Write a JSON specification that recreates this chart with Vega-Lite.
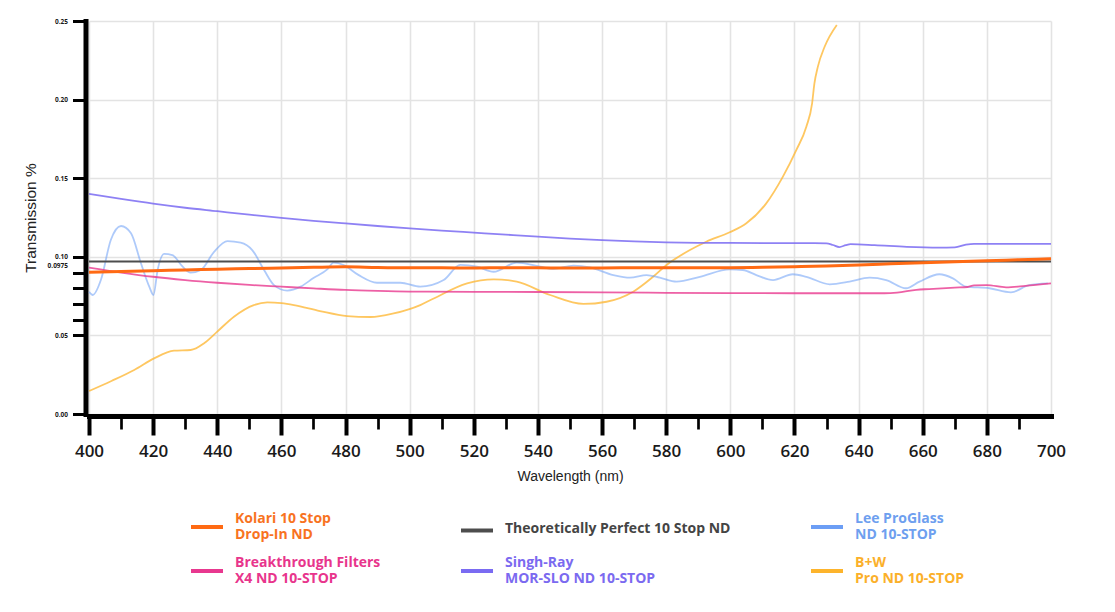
{
  "$schema": "https://vega.github.io/schema/vega-lite/v6.json",
  "autosize": "none",
  "width": 962,
  "height": 393,
  "padding": {"left": 89, "top": 21, "right": 64, "bottom": 198},
  "background": "white",
  "config": {
    "view": {"stroke": null},
    "axis": {"labelColor": "#1a1a1a", "titleColor": "#222222"}
  },
  "data": {
    "values": [
      {"filter": "B+W|Pro ND 10-STOP", "wavelength": 400, "transmission": 0.0146},
      {"filter": "B+W|Pro ND 10-STOP", "wavelength": 407, "transmission": 0.021},
      {"filter": "B+W|Pro ND 10-STOP", "wavelength": 414.1, "transmission": 0.028},
      {"filter": "B+W|Pro ND 10-STOP", "wavelength": 420.3, "transmission": 0.0354},
      {"filter": "B+W|Pro ND 10-STOP", "wavelength": 426.5, "transmission": 0.0403},
      {"filter": "B+W|Pro ND 10-STOP", "wavelength": 431.7, "transmission": 0.0407},
      {"filter": "B+W|Pro ND 10-STOP", "wavelength": 435.9, "transmission": 0.045},
      {"filter": "B+W|Pro ND 10-STOP", "wavelength": 440, "transmission": 0.0524},
      {"filter": "B+W|Pro ND 10-STOP", "wavelength": 445.2, "transmission": 0.0619},
      {"filter": "B+W|Pro ND 10-STOP", "wavelength": 451.4, "transmission": 0.0693},
      {"filter": "B+W|Pro ND 10-STOP", "wavelength": 455.6, "transmission": 0.071},
      {"filter": "B+W|Pro ND 10-STOP", "wavelength": 460, "transmission": 0.0705},
      {"filter": "B+W|Pro ND 10-STOP", "wavelength": 463.9, "transmission": 0.0693},
      {"filter": "B+W|Pro ND 10-STOP", "wavelength": 472, "transmission": 0.0655},
      {"filter": "B+W|Pro ND 10-STOP", "wavelength": 480.5, "transmission": 0.0623},
      {"filter": "B+W|Pro ND 10-STOP", "wavelength": 487.8, "transmission": 0.0617},
      {"filter": "B+W|Pro ND 10-STOP", "wavelength": 495, "transmission": 0.064},
      {"filter": "B+W|Pro ND 10-STOP", "wavelength": 503.3, "transmission": 0.0693},
      {"filter": "B+W|Pro ND 10-STOP", "wavelength": 507.5, "transmission": 0.0735},
      {"filter": "B+W|Pro ND 10-STOP", "wavelength": 517.9, "transmission": 0.0831},
      {"filter": "B+W|Pro ND 10-STOP", "wavelength": 526.2, "transmission": 0.0857},
      {"filter": "B+W|Pro ND 10-STOP", "wavelength": 533.4, "transmission": 0.0842},
      {"filter": "B+W|Pro ND 10-STOP", "wavelength": 543.8, "transmission": 0.0757},
      {"filter": "B+W|Pro ND 10-STOP", "wavelength": 554.2, "transmission": 0.07},
      {"filter": "B+W|Pro ND 10-STOP", "wavelength": 561.4, "transmission": 0.0714},
      {"filter": "B+W|Pro ND 10-STOP", "wavelength": 569.7, "transmission": 0.0778},
      {"filter": "B+W|Pro ND 10-STOP", "wavelength": 575.9, "transmission": 0.0873},
      {"filter": "B+W|Pro ND 10-STOP", "wavelength": 580.1, "transmission": 0.0948},
      {"filter": "B+W|Pro ND 10-STOP", "wavelength": 587.4, "transmission": 0.1043},
      {"filter": "B+W|Pro ND 10-STOP", "wavelength": 592.5, "transmission": 0.1096},
      {"filter": "B+W|Pro ND 10-STOP", "wavelength": 599.8, "transmission": 0.1156},
      {"filter": "B+W|Pro ND 10-STOP", "wavelength": 605, "transmission": 0.1213},
      {"filter": "B+W|Pro ND 10-STOP", "wavelength": 611.2, "transmission": 0.134},
      {"filter": "B+W|Pro ND 10-STOP", "wavelength": 616.4, "transmission": 0.151},
      {"filter": "B+W|Pro ND 10-STOP", "wavelength": 620.6, "transmission": 0.168},
      {"filter": "B+W|Pro ND 10-STOP", "wavelength": 623.7, "transmission": 0.1828},
      {"filter": "B+W|Pro ND 10-STOP", "wavelength": 625.5, "transmission": 0.1976},
      {"filter": "B+W|Pro ND 10-STOP", "wavelength": 626.2, "transmission": 0.21},
      {"filter": "B+W|Pro ND 10-STOP", "wavelength": 627.3, "transmission": 0.221},
      {"filter": "B+W|Pro ND 10-STOP", "wavelength": 629.4, "transmission": 0.2336},
      {"filter": "B+W|Pro ND 10-STOP", "wavelength": 633.2, "transmission": 0.2475},

      {"filter": "Lee ProGlass|ND 10-STOP", "wavelength": 400, "transmission": 0.0778},
      {"filter": "Lee ProGlass|ND 10-STOP", "wavelength": 401.2, "transmission": 0.0757},
      {"filter": "Lee ProGlass|ND 10-STOP", "wavelength": 403.7, "transmission": 0.0852},
      {"filter": "Lee ProGlass|ND 10-STOP", "wavelength": 406.8, "transmission": 0.1107},
      {"filter": "Lee ProGlass|ND 10-STOP", "wavelength": 410, "transmission": 0.1196},
      {"filter": "Lee ProGlass|ND 10-STOP", "wavelength": 413.1, "transmission": 0.115},
      {"filter": "Lee ProGlass|ND 10-STOP", "wavelength": 416.2, "transmission": 0.0959},
      {"filter": "Lee ProGlass|ND 10-STOP", "wavelength": 418.8, "transmission": 0.081},
      {"filter": "Lee ProGlass|ND 10-STOP", "wavelength": 420.1, "transmission": 0.0757},
      {"filter": "Lee ProGlass|ND 10-STOP", "wavelength": 421.4, "transmission": 0.0916},
      {"filter": "Lee ProGlass|ND 10-STOP", "wavelength": 423.4, "transmission": 0.1018},
      {"filter": "Lee ProGlass|ND 10-STOP", "wavelength": 426, "transmission": 0.1011},
      {"filter": "Lee ProGlass|ND 10-STOP", "wavelength": 429.2, "transmission": 0.0937},
      {"filter": "Lee ProGlass|ND 10-STOP", "wavelength": 431.7, "transmission": 0.0899},
      {"filter": "Lee ProGlass|ND 10-STOP", "wavelength": 434.9, "transmission": 0.0916},
      {"filter": "Lee ProGlass|ND 10-STOP", "wavelength": 439, "transmission": 0.1032},
      {"filter": "Lee ProGlass|ND 10-STOP", "wavelength": 443.2, "transmission": 0.11},
      {"filter": "Lee ProGlass|ND 10-STOP", "wavelength": 447.3, "transmission": 0.109},
      {"filter": "Lee ProGlass|ND 10-STOP", "wavelength": 450.9, "transmission": 0.1043},
      {"filter": "Lee ProGlass|ND 10-STOP", "wavelength": 454.6, "transmission": 0.0916},
      {"filter": "Lee ProGlass|ND 10-STOP", "wavelength": 457.7, "transmission": 0.082},
      {"filter": "Lee ProGlass|ND 10-STOP", "wavelength": 461.8, "transmission": 0.0785},
      {"filter": "Lee ProGlass|ND 10-STOP", "wavelength": 466, "transmission": 0.081},
      {"filter": "Lee ProGlass|ND 10-STOP", "wavelength": 470, "transmission": 0.0865},
      {"filter": "Lee ProGlass|ND 10-STOP", "wavelength": 474.3, "transmission": 0.092},
      {"filter": "Lee ProGlass|ND 10-STOP", "wavelength": 476.3, "transmission": 0.0963},
      {"filter": "Lee ProGlass|ND 10-STOP", "wavelength": 479.4, "transmission": 0.0948},
      {"filter": "Lee ProGlass|ND 10-STOP", "wavelength": 484, "transmission": 0.0885},
      {"filter": "Lee ProGlass|ND 10-STOP", "wavelength": 489.8, "transmission": 0.0835},
      {"filter": "Lee ProGlass|ND 10-STOP", "wavelength": 497.1, "transmission": 0.0835},
      {"filter": "Lee ProGlass|ND 10-STOP", "wavelength": 503.3, "transmission": 0.081},
      {"filter": "Lee ProGlass|ND 10-STOP", "wavelength": 510.6, "transmission": 0.0852},
      {"filter": "Lee ProGlass|ND 10-STOP", "wavelength": 515.8, "transmission": 0.0948},
      {"filter": "Lee ProGlass|ND 10-STOP", "wavelength": 521, "transmission": 0.0937},
      {"filter": "Lee ProGlass|ND 10-STOP", "wavelength": 526.2, "transmission": 0.0905},
      {"filter": "Lee ProGlass|ND 10-STOP", "wavelength": 533.4, "transmission": 0.0963},
      {"filter": "Lee ProGlass|ND 10-STOP", "wavelength": 540.7, "transmission": 0.0937},
      {"filter": "Lee ProGlass|ND 10-STOP", "wavelength": 544.8, "transmission": 0.0924},
      {"filter": "Lee ProGlass|ND 10-STOP", "wavelength": 551.1, "transmission": 0.0944},
      {"filter": "Lee ProGlass|ND 10-STOP", "wavelength": 556.2, "transmission": 0.0933},
      {"filter": "Lee ProGlass|ND 10-STOP", "wavelength": 563.5, "transmission": 0.0884},
      {"filter": "Lee ProGlass|ND 10-STOP", "wavelength": 568.7, "transmission": 0.0867},
      {"filter": "Lee ProGlass|ND 10-STOP", "wavelength": 573.9, "transmission": 0.0884},
      {"filter": "Lee ProGlass|ND 10-STOP", "wavelength": 578, "transmission": 0.0867},
      {"filter": "Lee ProGlass|ND 10-STOP", "wavelength": 583.2, "transmission": 0.0842},
      {"filter": "Lee ProGlass|ND 10-STOP", "wavelength": 590.5, "transmission": 0.0873},
      {"filter": "Lee ProGlass|ND 10-STOP", "wavelength": 599.8, "transmission": 0.092},
      {"filter": "Lee ProGlass|ND 10-STOP", "wavelength": 603.9, "transmission": 0.0916},
      {"filter": "Lee ProGlass|ND 10-STOP", "wavelength": 608.1, "transmission": 0.0884},
      {"filter": "Lee ProGlass|ND 10-STOP", "wavelength": 613.3, "transmission": 0.0852},
      {"filter": "Lee ProGlass|ND 10-STOP", "wavelength": 619.5, "transmission": 0.0889},
      {"filter": "Lee ProGlass|ND 10-STOP", "wavelength": 623.7, "transmission": 0.0873},
      {"filter": "Lee ProGlass|ND 10-STOP", "wavelength": 631, "transmission": 0.0825},
      {"filter": "Lee ProGlass|ND 10-STOP", "wavelength": 637.2, "transmission": 0.0842},
      {"filter": "Lee ProGlass|ND 10-STOP", "wavelength": 643.4, "transmission": 0.0867},
      {"filter": "Lee ProGlass|ND 10-STOP", "wavelength": 648.6, "transmission": 0.0852},
      {"filter": "Lee ProGlass|ND 10-STOP", "wavelength": 654.8, "transmission": 0.08},
      {"filter": "Lee ProGlass|ND 10-STOP", "wavelength": 659, "transmission": 0.0842},
      {"filter": "Lee ProGlass|ND 10-STOP", "wavelength": 665.2, "transmission": 0.0889},
      {"filter": "Lee ProGlass|ND 10-STOP", "wavelength": 669.4, "transmission": 0.0863},
      {"filter": "Lee ProGlass|ND 10-STOP", "wavelength": 673.5, "transmission": 0.081},
      {"filter": "Lee ProGlass|ND 10-STOP", "wavelength": 680.8, "transmission": 0.08},
      {"filter": "Lee ProGlass|ND 10-STOP", "wavelength": 687.5, "transmission": 0.0774},
      {"filter": "Lee ProGlass|ND 10-STOP", "wavelength": 693.2, "transmission": 0.082},
      {"filter": "Lee ProGlass|ND 10-STOP", "wavelength": 699, "transmission": 0.0831},

      {"filter": "Breakthrough Filters|X4 ND 10-STOP", "wavelength": 400, "transmission": 0.0931},
      {"filter": "Breakthrough Filters|X4 ND 10-STOP", "wavelength": 410, "transmission": 0.09},
      {"filter": "Breakthrough Filters|X4 ND 10-STOP", "wavelength": 420, "transmission": 0.0873},
      {"filter": "Breakthrough Filters|X4 ND 10-STOP", "wavelength": 430, "transmission": 0.0852},
      {"filter": "Breakthrough Filters|X4 ND 10-STOP", "wavelength": 440, "transmission": 0.0835},
      {"filter": "Breakthrough Filters|X4 ND 10-STOP", "wavelength": 450, "transmission": 0.0821},
      {"filter": "Breakthrough Filters|X4 ND 10-STOP", "wavelength": 460, "transmission": 0.081},
      {"filter": "Breakthrough Filters|X4 ND 10-STOP", "wavelength": 470, "transmission": 0.0799},
      {"filter": "Breakthrough Filters|X4 ND 10-STOP", "wavelength": 480, "transmission": 0.0789},
      {"filter": "Breakthrough Filters|X4 ND 10-STOP", "wavelength": 490, "transmission": 0.0783},
      {"filter": "Breakthrough Filters|X4 ND 10-STOP", "wavelength": 500, "transmission": 0.0779},
      {"filter": "Breakthrough Filters|X4 ND 10-STOP", "wavelength": 520, "transmission": 0.0777},
      {"filter": "Breakthrough Filters|X4 ND 10-STOP", "wavelength": 540, "transmission": 0.0776},
      {"filter": "Breakthrough Filters|X4 ND 10-STOP", "wavelength": 560, "transmission": 0.0774},
      {"filter": "Breakthrough Filters|X4 ND 10-STOP", "wavelength": 580, "transmission": 0.0771},
      {"filter": "Breakthrough Filters|X4 ND 10-STOP", "wavelength": 600, "transmission": 0.0769},
      {"filter": "Breakthrough Filters|X4 ND 10-STOP", "wavelength": 620, "transmission": 0.0768},
      {"filter": "Breakthrough Filters|X4 ND 10-STOP", "wavelength": 640, "transmission": 0.0768},
      {"filter": "Breakthrough Filters|X4 ND 10-STOP", "wavelength": 648, "transmission": 0.0768},
      {"filter": "Breakthrough Filters|X4 ND 10-STOP", "wavelength": 652, "transmission": 0.0772},
      {"filter": "Breakthrough Filters|X4 ND 10-STOP", "wavelength": 658, "transmission": 0.079},
      {"filter": "Breakthrough Filters|X4 ND 10-STOP", "wavelength": 662, "transmission": 0.0795},
      {"filter": "Breakthrough Filters|X4 ND 10-STOP", "wavelength": 670, "transmission": 0.0804},
      {"filter": "Breakthrough Filters|X4 ND 10-STOP", "wavelength": 674, "transmission": 0.0808},
      {"filter": "Breakthrough Filters|X4 ND 10-STOP", "wavelength": 676, "transmission": 0.0818},
      {"filter": "Breakthrough Filters|X4 ND 10-STOP", "wavelength": 680, "transmission": 0.082},
      {"filter": "Breakthrough Filters|X4 ND 10-STOP", "wavelength": 686, "transmission": 0.0806},
      {"filter": "Breakthrough Filters|X4 ND 10-STOP", "wavelength": 692, "transmission": 0.0815},
      {"filter": "Breakthrough Filters|X4 ND 10-STOP", "wavelength": 700, "transmission": 0.0831},

      {"filter": "Singh-Ray|MOR-SLO ND 10-STOP", "wavelength": 400, "transmission": 0.14},
      {"filter": "Singh-Ray|MOR-SLO ND 10-STOP", "wavelength": 410, "transmission": 0.1368},
      {"filter": "Singh-Ray|MOR-SLO ND 10-STOP", "wavelength": 420, "transmission": 0.1338},
      {"filter": "Singh-Ray|MOR-SLO ND 10-STOP", "wavelength": 430, "transmission": 0.1312},
      {"filter": "Singh-Ray|MOR-SLO ND 10-STOP", "wavelength": 440, "transmission": 0.129},
      {"filter": "Singh-Ray|MOR-SLO ND 10-STOP", "wavelength": 450, "transmission": 0.1268},
      {"filter": "Singh-Ray|MOR-SLO ND 10-STOP", "wavelength": 460, "transmission": 0.1248},
      {"filter": "Singh-Ray|MOR-SLO ND 10-STOP", "wavelength": 470, "transmission": 0.1229},
      {"filter": "Singh-Ray|MOR-SLO ND 10-STOP", "wavelength": 480, "transmission": 0.1212},
      {"filter": "Singh-Ray|MOR-SLO ND 10-STOP", "wavelength": 490, "transmission": 0.1196},
      {"filter": "Singh-Ray|MOR-SLO ND 10-STOP", "wavelength": 500, "transmission": 0.1181},
      {"filter": "Singh-Ray|MOR-SLO ND 10-STOP", "wavelength": 510, "transmission": 0.1167},
      {"filter": "Singh-Ray|MOR-SLO ND 10-STOP", "wavelength": 520, "transmission": 0.1154},
      {"filter": "Singh-Ray|MOR-SLO ND 10-STOP", "wavelength": 530, "transmission": 0.1141},
      {"filter": "Singh-Ray|MOR-SLO ND 10-STOP", "wavelength": 540, "transmission": 0.1128},
      {"filter": "Singh-Ray|MOR-SLO ND 10-STOP", "wavelength": 550, "transmission": 0.1116},
      {"filter": "Singh-Ray|MOR-SLO ND 10-STOP", "wavelength": 560, "transmission": 0.1106},
      {"filter": "Singh-Ray|MOR-SLO ND 10-STOP", "wavelength": 570, "transmission": 0.1098},
      {"filter": "Singh-Ray|MOR-SLO ND 10-STOP", "wavelength": 580, "transmission": 0.1092},
      {"filter": "Singh-Ray|MOR-SLO ND 10-STOP", "wavelength": 590, "transmission": 0.1089},
      {"filter": "Singh-Ray|MOR-SLO ND 10-STOP", "wavelength": 600, "transmission": 0.1088},
      {"filter": "Singh-Ray|MOR-SLO ND 10-STOP", "wavelength": 615, "transmission": 0.1087},
      {"filter": "Singh-Ray|MOR-SLO ND 10-STOP", "wavelength": 630, "transmission": 0.1086},
      {"filter": "Singh-Ray|MOR-SLO ND 10-STOP", "wavelength": 632, "transmission": 0.1075},
      {"filter": "Singh-Ray|MOR-SLO ND 10-STOP", "wavelength": 634, "transmission": 0.1062},
      {"filter": "Singh-Ray|MOR-SLO ND 10-STOP", "wavelength": 636, "transmission": 0.1074},
      {"filter": "Singh-Ray|MOR-SLO ND 10-STOP", "wavelength": 637.5, "transmission": 0.108},
      {"filter": "Singh-Ray|MOR-SLO ND 10-STOP", "wavelength": 645, "transmission": 0.1074},
      {"filter": "Singh-Ray|MOR-SLO ND 10-STOP", "wavelength": 655, "transmission": 0.1063},
      {"filter": "Singh-Ray|MOR-SLO ND 10-STOP", "wavelength": 665, "transmission": 0.1058},
      {"filter": "Singh-Ray|MOR-SLO ND 10-STOP", "wavelength": 670, "transmission": 0.106},
      {"filter": "Singh-Ray|MOR-SLO ND 10-STOP", "wavelength": 673.5, "transmission": 0.1077},
      {"filter": "Singh-Ray|MOR-SLO ND 10-STOP", "wavelength": 676, "transmission": 0.1082},
      {"filter": "Singh-Ray|MOR-SLO ND 10-STOP", "wavelength": 690, "transmission": 0.1082},
      {"filter": "Singh-Ray|MOR-SLO ND 10-STOP", "wavelength": 700, "transmission": 0.1082},

      {"filter": "Theoretically Perfect 10 Stop ND", "wavelength": 400, "transmission": 0.097},
      {"filter": "Theoretically Perfect 10 Stop ND", "wavelength": 700, "transmission": 0.097},

      {"filter": "Kolari 10 Stop|Drop-In ND", "wavelength": 400, "transmission": 0.0902},
      {"filter": "Kolari 10 Stop|Drop-In ND", "wavelength": 410, "transmission": 0.0907},
      {"filter": "Kolari 10 Stop|Drop-In ND", "wavelength": 420, "transmission": 0.0912},
      {"filter": "Kolari 10 Stop|Drop-In ND", "wavelength": 430, "transmission": 0.0916},
      {"filter": "Kolari 10 Stop|Drop-In ND", "wavelength": 440, "transmission": 0.0921},
      {"filter": "Kolari 10 Stop|Drop-In ND", "wavelength": 450, "transmission": 0.0925},
      {"filter": "Kolari 10 Stop|Drop-In ND", "wavelength": 460, "transmission": 0.0929},
      {"filter": "Kolari 10 Stop|Drop-In ND", "wavelength": 470, "transmission": 0.0933},
      {"filter": "Kolari 10 Stop|Drop-In ND", "wavelength": 480, "transmission": 0.0936},
      {"filter": "Kolari 10 Stop|Drop-In ND", "wavelength": 490, "transmission": 0.0932},
      {"filter": "Kolari 10 Stop|Drop-In ND", "wavelength": 500, "transmission": 0.093},
      {"filter": "Kolari 10 Stop|Drop-In ND", "wavelength": 510, "transmission": 0.093},
      {"filter": "Kolari 10 Stop|Drop-In ND", "wavelength": 520, "transmission": 0.0929},
      {"filter": "Kolari 10 Stop|Drop-In ND", "wavelength": 530, "transmission": 0.0931},
      {"filter": "Kolari 10 Stop|Drop-In ND", "wavelength": 540, "transmission": 0.093},
      {"filter": "Kolari 10 Stop|Drop-In ND", "wavelength": 550, "transmission": 0.0928},
      {"filter": "Kolari 10 Stop|Drop-In ND", "wavelength": 560, "transmission": 0.0929},
      {"filter": "Kolari 10 Stop|Drop-In ND", "wavelength": 570, "transmission": 0.093},
      {"filter": "Kolari 10 Stop|Drop-In ND", "wavelength": 580, "transmission": 0.093},
      {"filter": "Kolari 10 Stop|Drop-In ND", "wavelength": 590, "transmission": 0.0931},
      {"filter": "Kolari 10 Stop|Drop-In ND", "wavelength": 600, "transmission": 0.0931},
      {"filter": "Kolari 10 Stop|Drop-In ND", "wavelength": 610, "transmission": 0.0933},
      {"filter": "Kolari 10 Stop|Drop-In ND", "wavelength": 620, "transmission": 0.0937},
      {"filter": "Kolari 10 Stop|Drop-In ND", "wavelength": 630, "transmission": 0.0942},
      {"filter": "Kolari 10 Stop|Drop-In ND", "wavelength": 640, "transmission": 0.0948},
      {"filter": "Kolari 10 Stop|Drop-In ND", "wavelength": 650, "transmission": 0.0955},
      {"filter": "Kolari 10 Stop|Drop-In ND", "wavelength": 660, "transmission": 0.0962},
      {"filter": "Kolari 10 Stop|Drop-In ND", "wavelength": 670, "transmission": 0.0968},
      {"filter": "Kolari 10 Stop|Drop-In ND", "wavelength": 680, "transmission": 0.0975},
      {"filter": "Kolari 10 Stop|Drop-In ND", "wavelength": 690, "transmission": 0.0981},
      {"filter": "Kolari 10 Stop|Drop-In ND", "wavelength": 700, "transmission": 0.0987}
    ]
  },
  "resolve": {"axis": {"x": "independent", "y": "independent"}},
  "layer": [
    {
      "mark": {"type": "line", "interpolate": "monotone"},
      "encoding": {
        "x": {
          "field": "wavelength",
          "type": "quantitative",
          "scale": {"domain": [400, 700], "nice": false},
          "axis": {
            "orient": "bottom",
            "title": "Wavelength (nm)",
            "values": [400, 420, 440, 460, 480, 500, 520, 540, 560, 580, 600, 620, 640, 660, 680, 700],
            "offset": 2,
            "domainColor": "black",
            "domainWidth": 5,
            "domainCap": "square",
            "tickColor": "black",
            "tickWidth": 4,
            "tickSize": 19,
            "tickOpacity": {"condition": {"test": "datum.value == 700", "value": 0}, "value": 1},
            "labelFont": "Open Sans",
            "labelFontSize": 17,
            "labelFontWeight": 600,
            "labelPadding": 8,
            "labelFlush": false,
            "grid": true,
            "gridColor": "#e3e3e3",
            "gridWidth": 1.6,
            "titleFont": "Liberation Sans",
            "titleFontSize": 14,
            "titleFontWeight": "normal",
            "titlePadding": 10
          }
        },
        "y": {
          "field": "transmission",
          "type": "quantitative",
          "scale": {"domain": [0, 0.25], "nice": false},
          "axis": {
            "orient": "left",
            "title": "Transmission %",
            "values": [0, 0.05, 0.1, 0.15, 0.2, 0.25],
            "format": ".2f",
            "offset": 3.5,
            "domainColor": "black",
            "domainWidth": 5,
            "domainCap": "square",
            "tickColor": "black",
            "tickWidth": 3,
            "tickSize": 13,
            "labelFont": "Open Sans",
            "labelFontSize": 6.5,
            "labelFontWeight": "bold",
            "labelPadding": 5,
            "grid": true,
            "gridColor": "#e3e3e3",
            "gridWidth": 1.6,
            "titleFont": "Liberation Sans",
            "titleFontSize": 15.5,
            "titleFontWeight": "normal",
            "titlePadding": 16
          }
        },
        "color": {
          "field": "filter",
          "type": "nominal",
          "scale": {
            "domain": [
              "Kolari 10 Stop|Drop-In ND",
              "Theoretically Perfect 10 Stop ND",
              "Lee ProGlass|ND 10-STOP",
              "Breakthrough Filters|X4 ND 10-STOP",
              "Singh-Ray|MOR-SLO ND 10-STOP",
              "B+W|Pro ND 10-STOP"
            ],
            "range": ["#FF6A13", "#4D4D4D", "#6C9EF5", "#E8388F", "#7A6BF2", "#FDB42C"]
          },
          "legend": {
            "title": null,
            "orient": "none",
            "legendX": 100,
            "legendY": 488,
            "columns": 3,
            "direction": "horizontal",
            "columnPadding": 72,
            "rowPadding": 11,
            "symbolType": "stroke",
            "symbolSize": 1024,
            "symbolStrokeWidth": 4,
            "symbolOpacity": 1,
            "labelOffset": 10,
            "labelFont": "Open Sans",
            "labelFontSize": 14,
            "labelFontWeight": 700,
            "labelBaseline": "middle",
            "labelLimit": 400,
            "labelExpr": "split(datum.label, '|')",
            "encoding": {
              "labels": {
                "lineHeight": {"value": 16},
                "dy": {
                  "condition": {"test": "datum.value == 'Theoretically Perfect 10 Stop ND'", "value": -2},
                  "value": -8
                },
                "fill": {
                  "condition": [
                    {"test": "datum.value == 'Kolari 10 Stop|Drop-In ND'", "value": "#F8731F"},
                    {"test": "datum.value == 'Theoretically Perfect 10 Stop ND'", "value": "#444444"},
                    {"test": "datum.value == 'Lee ProGlass|ND 10-STOP'", "value": "#6E9FEF"},
                    {"test": "datum.value == 'Breakthrough Filters|X4 ND 10-STOP'", "value": "#E8358C"},
                    {"test": "datum.value == 'Singh-Ray|MOR-SLO ND 10-STOP'", "value": "#7B6AF0"}
                  ],
                  "value": "#FBB02A"
                }
              },
              "symbols": {
                "strokeWidth": {"value": 4},
                "opacity": {"value": 1}
              }
            }
          }
        },
        "strokeWidth": {
          "condition": {"test": "datum.filter == 'Kolari 10 Stop|Drop-In ND'", "value": 3},
          "value": 1.8
        },
        "opacity": {
          "condition": [
            {"test": "datum.filter == 'Lee ProGlass|ND 10-STOP'", "value": 0.55},
            {"test": "datum.filter == 'B+W|Pro ND 10-STOP'", "value": 0.75},
            {"test": "datum.filter == 'Breakthrough Filters|X4 ND 10-STOP'", "value": 0.8},
            {"test": "datum.filter == 'Singh-Ray|MOR-SLO ND 10-STOP'", "value": 0.85}
          ],
          "value": 1
        }
      }
    },
    {
      "mark": {"type": "point", "opacity": 0},
      "encoding": {
        "x": {
          "field": "wavelength",
          "type": "quantitative",
          "axis": {
            "orient": "bottom",
            "title": null,
            "values": [410, 430, 450, 470, 490, 510, 530, 550, 570, 590, 610, 630, 650, 670, 690],
            "offset": 2,
            "domain": false,
            "grid": false,
            "labels": false,
            "tickColor": "black",
            "tickWidth": 2.7,
            "tickSize": 13
          }
        },
        "y": {
          "field": "transmission",
          "type": "quantitative",
          "axis": {
            "orient": "left",
            "title": null,
            "values": [0.06, 0.07, 0.08, 0.09, 0.0975],
            "offset": 3.5,
            "domain": false,
            "grid": false,
            "tickColor": "black",
            "tickWidth": 3,
            "tickSize": 13,
            "tickOpacity": {"condition": {"test": "datum.value == 0.0975", "value": 0}, "value": 1},
            "labelExpr": "datum.value == 0.0975 ? '0.0975' : ''",
            "labelFont": "Open Sans",
            "labelFontSize": 6.5,
            "labelFontWeight": "bold",
            "labelPadding": 5,
            "labelOffset": 5
          }
        }
      }
    }
  ]
}
